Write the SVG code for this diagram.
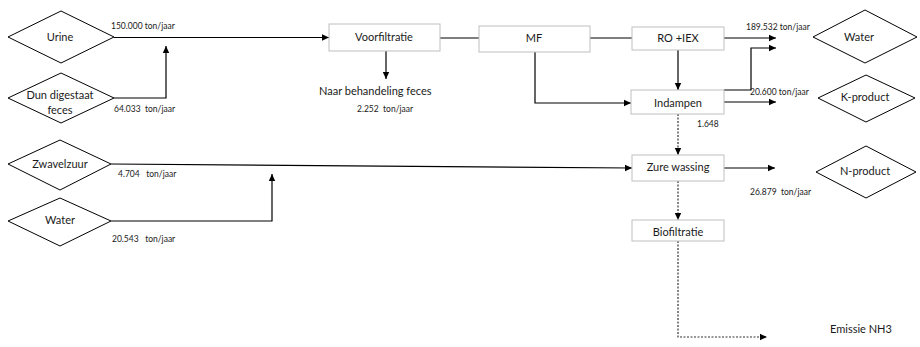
<svg xmlns="http://www.w3.org/2000/svg" width="920" height="347" viewBox="0 0 920 347">
<style>
text{font-family:Lato,"Liberation Sans",sans-serif;fill:#1a1a1a}
.n{font-size:11px;text-anchor:middle}
.s{font-size:8.5px;white-space:pre}
.l{font-size:11px}
.d{fill:#fff;stroke:#000;stroke-width:1}
.b{fill:#fff;stroke:#bfbfbf;stroke-width:1}
.c{fill:none;stroke:#000;stroke-width:1.2}
.a{marker-end:url(#ah)}
.dot{fill:none;stroke:#333;stroke-width:1.2;stroke-dasharray:2 1.5}
</style>
<defs>
<marker id="ah" markerUnits="userSpaceOnUse" markerWidth="8" markerHeight="8" refX="7" refY="4" orient="auto">
<path d="M0,0.8 L7,4 L0,7.2 Z" fill="#000"/>
</marker>
</defs>
<g id="connectors">
<path class="c a" d="M114,37.5 H329"/>
<path class="c a" d="M114,98 H166 V46"/>
<path class="c a" d="M386,51 V79"/>
<path class="c" d="M440,38 H479"/>
<path class="c" d="M590,38 H632"/>
<path class="c a" d="M535,52 V103 H631"/>
<path class="c a" d="M724,38 H776"/>
<path class="c a" d="M678,50 V90"/>
<path class="c a" d="M724,90 H751 V48 H776"/>
<path class="c a" d="M724,102 H776"/>
<path class="dot a" d="M678,114 V155"/>
<path class="c a" d="M111,164 L632,168"/>
<path class="c a" d="M111,221 H272 V174"/>
<path class="c a" d="M724,168 H775"/>
<path class="dot a" d="M678,181 V220"/>
<path class="dot a" d="M678,241 V337 H767"/>
</g>
<g id="urine"><polygon class="d" points="8,37 61,11 114,37 61,63"/><text class="n" x="60" y="41">Urine</text></g>
<g id="dun"><polygon class="d" points="8,98 61,73 114,98 61,123"/><text class="n" x="60" y="99">Dun digestaat</text><text class="n" x="60" y="114">feces</text></g>
<g id="zwavelzuur"><polygon class="d" points="8,164 60,140 111,164 60,190"/><text class="n" x="60" y="168">Zwavelzuur</text></g>
<g id="water-in"><polygon class="d" points="8,221 60,198 111,221 60,246"/><text class="n" x="60" y="224">Water</text></g>
<g id="water-out"><polygon class="d" points="813,37 865,10 917,37 865,63"/><text class="n" x="859" y="41">Water</text></g>
<g id="k-product"><polygon class="d" points="818,98 866,75 915,98 866,122"/><text class="n" x="865" y="101">K-product</text></g>
<g id="n-product"><polygon class="d" points="816,172 866,146 916,172 866,198"/><text class="n" x="865" y="175">N-product</text></g>
<g id="voorfiltratie"><rect class="b" x="329" y="24" width="111" height="27"/><text class="n" x="384" y="41">Voorfiltratie</text></g>
<g id="mf"><rect class="b" x="479" y="26" width="111" height="26"/><text class="n" x="534" y="42">MF</text></g>
<g id="ro-iex"><rect class="b" x="632" y="27" width="92" height="23"/><text class="n" x="678" y="42">RO +IEX</text></g>
<g id="indampen"><rect class="b" x="631" y="90" width="93" height="24"/><text class="n" x="678" y="107">Indampen</text></g>
<g id="zure-wassing"><rect class="b" x="632" y="155" width="92" height="26"/><text class="n" x="678" y="171">Zure wassing</text></g>
<g id="biofiltratie"><rect class="b" x="632" y="220" width="92" height="21"/><text class="n" x="678" y="236">Biofiltratie</text></g>
<g id="labels">
<text class="s" x="111" y="29">150.000 ton/jaar</text>
<text class="s" x="114" y="112">64.033  ton/jaar</text>
<text class="l" x="319" y="95">Naar behandeling feces</text>
<text class="s" x="357" y="112">2.252  ton/jaar</text>
<text class="s" x="746" y="30">189.532 ton/jaar</text>
<text class="s" x="750" y="95">20.600 ton/jaar</text>
<text class="s" x="697" y="127">1.648</text>
<text class="s" x="118" y="177">4.704   ton/jaar</text>
<text class="s" x="112" y="242">20.543   ton/jaar</text>
<text class="s" x="750" y="195">26.879  ton/jaar</text>
<text class="l" x="830" y="333">Emissie NH3</text>
</g>
</svg>
